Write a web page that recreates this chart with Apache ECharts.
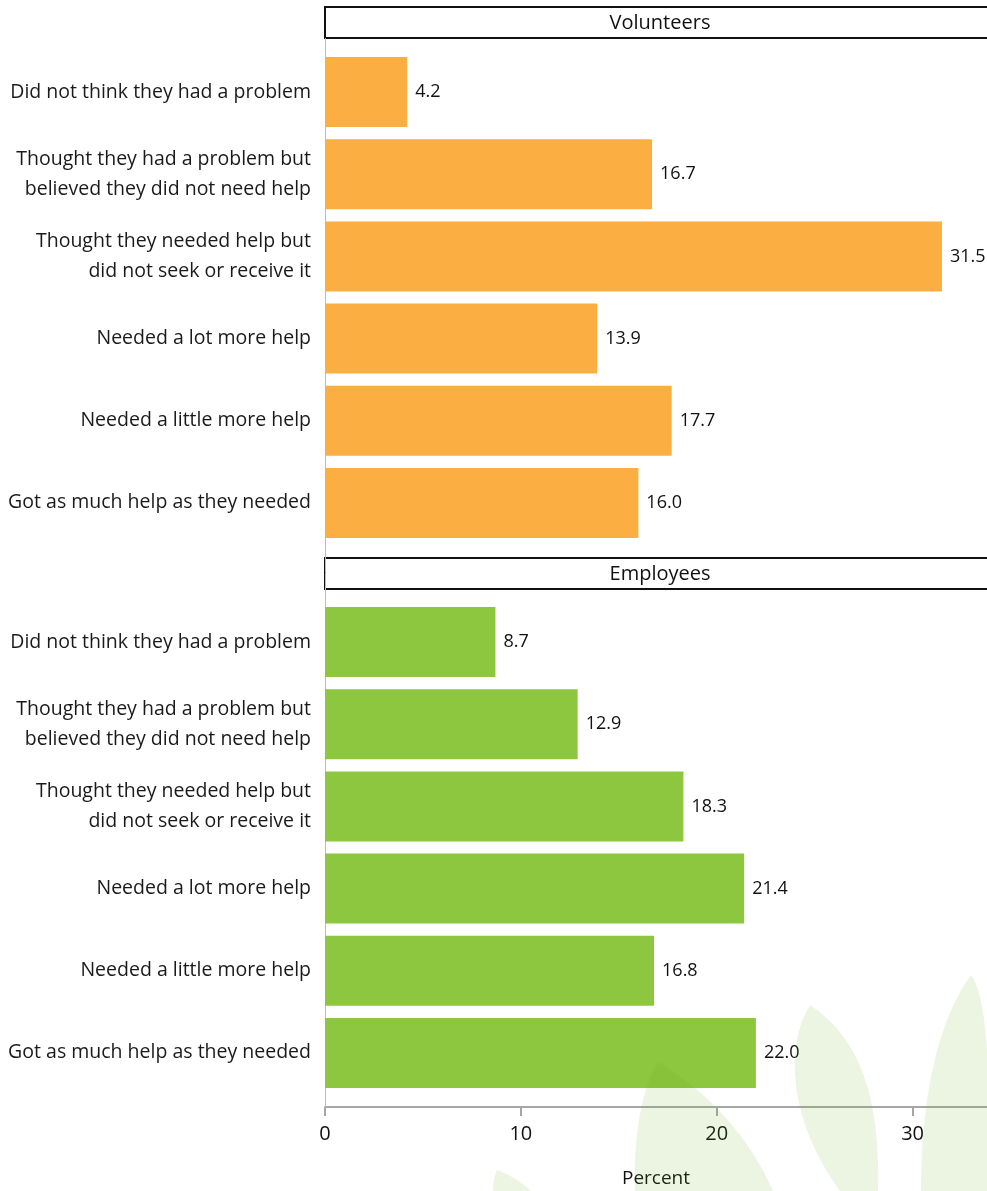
<!DOCTYPE html>
<html>
<head>
<meta charset="utf-8">
<script src="https://cdn.jsdelivr.net/npm/echarts@6/dist/echarts.min.js"></script>
<style>
  html, body { margin: 0; padding: 0; background: #fff; }
  #main { width: 987px; height: 1191px; }
</style>
</head>
<body>
<div id="main"></div>
<script>
var categories = [
    'Did not think they had a problem',
    'Thought they had a problem but\nbelieved they did not need help',
    'Thought they needed help but\ndid not seek or receive it',
    'Needed a lot more help',
    'Needed a little more help',
    'Got as much help as they needed'
];
var volunteers = [4.2, 16.7, 31.5, 13.9, 17.7, 16.0];
var employees = [8.7, 12.9, 18.3, 21.4, 16.8, 22.0];
var panelTitles = ['Volunteers', 'Employees'];
var xTicks = [0, 10, 20, 30];

var FONT = '"Open Sans", sans-serif';
var chart = echarts.init(document.getElementById('main'));

function yAxisFor(idx) {
    return {
        type: 'category',
        gridIndex: idx,
        data: categories,
        inverse: true,
        axisLine: { show: true, lineStyle: { color: '#bdbdbd', width: 1 } },
        axisTick: { show: false },
        axisLabel: {
            color: '#1a1a1a',
            fontFamily: FONT,
            fontSize: 19.5,
            lineHeight: 30,
            margin: 14,
            align: 'right'
        }
    };
}

function xAxisFor(idx, visible) {
    return {
        type: 'value',
        gridIndex: idx,
        min: 0,
        max: 33.8,
        interval: 10,
        offset: visible ? 13 : 0,
        splitLine: { show: false },
        axisLine: { show: visible, lineStyle: { color: '#a6a6a6', width: 2 } },
        axisTick: { show: visible, length: 9, lineStyle: { color: '#a6a6a6', width: 2 } },
        axisLabel: {
            show: visible,
            color: '#111',
            fontFamily: FONT,
            fontSize: 20,
            margin: 17,
            showMaxLabel: false,
            formatter: function (v) { return xTicks.indexOf(v) >= 0 ? String(v) : ''; }
        },
        name: visible ? 'Percent' : '',
        nameLocation: 'middle',
        nameGap: 62,
        nameTextStyle: { color: '#111', fontFamily: FONT, fontSize: 19 }
    };
}

function barSeries(idx, values, color) {
    return {
        type: 'bar',
        xAxisIndex: idx,
        yAxisIndex: idx,
        data: values,
        barWidth: 70,
        itemStyle: { color: color },
        label: {
            show: true,
            position: 'right',
            distance: 8,
            color: '#111',
            fontFamily: FONT,
            fontSize: 18,
            formatter: function (p) { return p.value.toFixed(1); }
        },
        silent: true
    };
}

function header(y, text) {
    return {
        type: 'group',
        children: [
            {
                type: 'rect',
                shape: { x: 325, y: y, width: 670, height: 31 },
                style: { fill: '#fff', stroke: '#111', lineWidth: 2 }
            },
            {
                type: 'text',
                x: 660, y: y + 16,
                style: {
                    text: text, fill: '#111', font: '20px ' + FONT,
                    align: 'center', verticalAlign: 'middle'
                }
            }
        ]
    };
}

// background leaf watermark: each leaf is a list of cubic curves, sampled into a polygon
function cubic(p0, c1, c2, p3, out) {
    for (var i = 0; i <= 16; i++) {
        var t = i / 16, u = 1 - t;
        out.push([
            u * u * u * p0[0] + 3 * u * u * t * c1[0] + 3 * u * t * t * c2[0] + t * t * t * p3[0],
            u * u * u * p0[1] + 3 * u * u * t * c1[1] + 3 * u * t * t * c2[1] + t * t * t * p3[1]
        ]);
    }
    return out;
}
function leaf(curves) {
    var pts = [];
    curves.forEach(function (c) { cubic(c[0], c[1], c[2], c[3], pts); });
    return {
        type: 'polygon', z: 100, silent: true,
        shape: { points: pts },
        style: { fill: 'rgba(110,172,30,0.13)' }
    };
}

var option = {
    backgroundColor: '#fff',
    animation: false,
    grid: [
        { left: 325, top: 51, width: 662, height: 493 },
        { left: 325, top: 601, width: 662, height: 493 }
    ],
    xAxis: [xAxisFor(0, false), xAxisFor(1, true)],
    yAxis: [yAxisFor(0), yAxisFor(1)],
    series: [
        barSeries(0, volunteers, '#fbae42'),
        barSeries(1, employees, '#8dc63f')
    ],
    graphic: [
        {
            type: 'line', z: 1,
            shape: { x1: 325.5, y1: 38, x2: 325.5, y2: 1107 },
            style: { stroke: '#bdbdbd', lineWidth: 1 }
        },
        header(7, panelTitles[0]),
        header(558, panelTitles[1]),
        leaf([
            [[658, 1062], [641, 1090], [633, 1140], [635, 1191]],
            [[773, 1191], [748, 1135], [708, 1092], [658, 1062]]
        ]),
        leaf([
            [[810, 1005], [785, 1045], [788, 1120], [840, 1191]],
            [[878, 1191], [880, 1100], [862, 1040], [810, 1005]]
        ]),
        leaf([
            [[971, 975], [942, 1015], [921, 1085], [921, 1191]],
            [[990, 1191], [990, 1100], [990, 1000], [971, 975]]
        ]),
        leaf([
            [[497, 1170], [494, 1177], [493, 1184], [493, 1191]],
            [[531, 1191], [522, 1182], [510, 1175], [497, 1170]]
        ])
    ]
};

chart.setOption(option);
</script>
</body>
</html>
